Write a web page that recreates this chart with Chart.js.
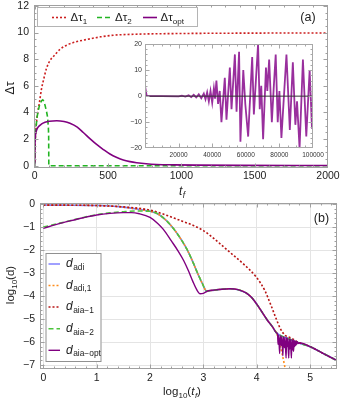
<!DOCTYPE html>
<html><head><meta charset="utf-8">
<script src="https://cdn.jsdelivr.net/npm/chart.js@4"></script>
<style>
html,body{margin:0;padding:0;background:#fff;width:341px;height:398px;overflow:hidden;}
canvas{position:absolute;}
#cTop{left:0;top:0;width:341px;height:198px;}
#cInset{left:110px;top:36px;width:215px;height:128px;}
#cBot{left:0;top:198px;width:341px;height:200px;}
</style></head><body>
<canvas id="cTop" width="341" height="198"></canvas>
<canvas id="cInset" width="215" height="128"></canvas>
<canvas id="cBot" width="341" height="200"></canvas>
<script>
// ---------------- panel (a) data ----------------
const topTicksX = [0, 500, 1000, 1500, 2000];
const topTicksY = [0, 2, 4, 6, 8, 10, 12];
const t1 = [0, 2, 5, 10, 20, 30, 38, 45, 59, 80, 104, 127, 173, 218, 280, 354, 450, 535, 700, 1000, 1500, 2000];
const tau1 = [0, 1.2, 2.2, 3.0, 4.0, 4.6, 5.2, 5.7, 6.4, 7.3, 7.9, 8.2, 8.75, 9.05, 9.3, 9.48, 9.68, 9.8, 9.88, 9.93, 9.96, 9.97];
const t2 = [0, 2, 5, 9, 15, 25, 35, 48, 55, 62, 70, 80, 87, 93, 95, 96, 2000];
const tau2 = [0, 1.5, 2.3, 2.9, 3.6, 4.2, 4.65, 4.9, 4.95, 4.85, 4.55, 4.1, 3.7, 2.9, 2.2, 0, 0];
const tOpt = [0, 1, 3, 7, 15, 25, 45, 70, 100, 150, 200, 240, 290, 331, 380, 422, 470, 513, 560, 604, 650, 695, 760, 831, 950, 1100, 1400, 2000];
const tauOpt = [0, 1.2, 2.0, 2.43, 2.75, 2.93, 3.12, 3.26, 3.34, 3.38, 3.32, 3.19, 2.9, 2.5, 2.0, 1.6, 1.2, 0.88, 0.62, 0.43, 0.31, 0.23, 0.15, 0.1, 0.07, 0.05, 0.03, 0.02];

// inset of panel (a)
const insetTicksX = [20000, 40000, 60000, 80000, 100000];
const insetTicksY = [-20, -10, 0, 10, 20];
const insetT = [0, 150, 1000, 10000, 20000, 22000, 24000, 26000, 27500, 29000, 30500, 32000, 33500, 35000, 36000, 37000, 38000, 39000, 40000, 41000, 41700, 42500, 43500, 44500, 45500, 47500, 48500, 50500, 51500, 53500, 54500, 56000, 56800, 58500, 59700, 61400, 63800, 64800, 67300, 68300, 69200, 70300, 72000, 72800, 73900, 75500, 76600, 77800, 79000, 80000, 81200, 84200, 86200, 88000, 89500, 90500, 92000, 94000, 96000, 98000, 99400, 100000];
const insetTau = [0, 3.4, 0.05, 0, -0.1, 0.2, -0.2, 0.3, -0.4, 0.5, -0.5, 0.7, -0.8, 1.0, -1.2, 1.5, -2.0, 2.0, -2.5, 3.0, -1.0, 6.0, -3.0, 2.0, -10, 7, -9, 11, -5, 16, -6, 17, -17.5, 10, -3, -15.5, 15, -7, 20, -5, 4, -16.5, 11, 2, 14, -10, 3, 16, -10, 2, -16, 16, -13, 13, -11, -2, -20, 14, -15.5, 10, -12.5, 1];

// ---------------- panel (b) data ----------------
const botTicksX = [0, 1, 2, 3, 4, 5];
const botTicksY = [0, -1, -2, -3, -4, -5, -6, -7];
const adiX = [0, 0.5, 1, 1.25, 1.5, 1.75, 2, 2.15, 2.3, 2.4, 2.5, 2.6, 2.7, 2.8, 2.9, 2.98, 3.06, 3.2, 3.35, 3.5, 3.65, 3.8, 3.9, 4, 4.1, 4.2, 4.3, 4.37, 4.45, 4.6, 4.8, 5, 5.25, 5.5];
const adiY = [-0.04, -0.045, -0.06, -0.08, -0.13, -0.21, -0.31, -0.43, -0.7, -0.95, -1.25, -1.6, -2.0, -2.5, -3.05, -3.45, -3.78, -3.74, -3.7, -3.68, -3.72, -3.86, -4.05, -4.35, -4.7, -5.05, -5.35, -5.6, -5.72, -5.86, -6.05, -6.2, -6.5, -6.8];
const adi1X = [0, 0.5, 1, 1.25, 1.5, 1.75, 2, 2.15, 2.3, 2.4, 2.5, 2.6, 2.7, 2.8, 2.9, 2.98, 3.06, 3.2, 3.35, 3.5, 3.65, 3.8, 3.9, 4, 4.1, 4.2, 4.3, 4.37, 4.42, 4.47, 4.52, 4.56];
const adi1Y = [-0.04, -0.045, -0.06, -0.08, -0.13, -0.21, -0.31, -0.43, -0.7, -0.95, -1.25, -1.6, -2.0, -2.5, -3.05, -3.45, -3.78, -3.74, -3.7, -3.68, -3.72, -3.86, -4.05, -4.35, -4.7, -5.05, -5.35, -5.6, -5.95, -6.45, -7.0, -7.5];
const aia1X = [0, 0.5, 1, 1.5, 2, 2.5, 3, 3.25, 3.5, 3.75, 4, 4.15, 4.25, 4.35, 4.44, 4.53, 4.62, 4.66, 4.75, 5, 5.25, 5.5];
const aia1Y = [-0.04, -0.045, -0.06, -0.12, -0.26, -0.65, -1.15, -1.6, -2.1, -2.6, -3.2, -3.75, -4.3, -4.9, -5.4, -5.7, -5.8, -5.84, -5.98, -6.2, -6.5, -6.8];
const aia2X = [0, 0.25, 0.5, 0.75, 1, 1.25, 1.5, 1.75, 2, 2.15, 2.3, 2.4, 2.5, 2.6, 2.7, 2.8, 2.9, 2.98, 3.06, 3.2, 3.35, 3.5, 3.65, 3.8, 3.9, 4, 4.1, 4.2, 4.3, 4.37, 4.45, 4.6, 4.8, 5, 5.25, 5.5];
const aia2Y = [-1.0, -0.86, -0.72, -0.58, -0.46, -0.38, -0.33, -0.3, -0.31, -0.43, -0.7, -0.95, -1.25, -1.6, -2.0, -2.5, -3.05, -3.45, -3.78, -3.74, -3.7, -3.68, -3.72, -3.86, -4.05, -4.35, -4.7, -5.05, -5.35, -5.6, -5.72, -5.86, -6.05, -6.2, -6.5, -6.8];
const optX = [0, 0.25, 0.5, 0.75, 1, 1.25, 1.5, 1.65, 1.8, 2, 2.15, 2.25, 2.4, 2.53, 2.63, 2.72, 2.8, 2.87, 2.94, 3, 3.08, 3.2, 3.35, 3.5, 3.65, 3.8, 3.9, 4, 4.1, 4.2, 4.3, 4.37,
  4.39, 4.40, 4.41, 4.43, 4.44, 4.46, 4.47, 4.49, 4.50, 4.52, 4.53, 4.55, 4.56, 4.57, 4.58, 4.60, 4.61, 4.62, 4.63, 4.65, 4.66, 4.67, 4.68, 4.69, 4.70, 4.71, 4.72, 4.73, 4.74, 4.75, 4.76, 4.78, 4.8, 5, 5.25, 5.5];
const optY = [-1.05, -0.88, -0.73, -0.59, -0.47, -0.4, -0.37, -0.37, -0.42, -0.58, -0.85, -1.1, -1.6, -2.05, -2.45, -2.9, -3.35, -3.7, -3.9, -3.88, -3.78, -3.74, -3.7, -3.68, -3.72, -3.86, -4.05, -4.35, -4.7, -5.05, -5.35, -5.6,
  -5.66, -6.1, -5.7, -6.5, -5.72, -6.15, -5.75, -6.6, -5.77, -6.25, -5.79, -6.7, -5.81, -6.2, -5.83, -6.7, -5.85, -6.3, -5.87, -6.7, -5.89, -6.35, -5.91, -6.4, -5.93, -6.2, -5.95, -6.15, -5.96, -6.1, -5.98, -6.06, -6.03, -6.2, -6.5, -6.8];

// ---------------- helpers ----------------
const FONT = '"Liberation Sans", Arial, sans-serif';
Chart.defaults.font.family = FONT;
Chart.defaults.color = '#222';
const pts = (xs, ys) => xs.map((x, i) => ({x: x, y: ys[i]}));
const fmt = v => (v < 0 ? '\u2212' + Math.abs(v) : String(v));
const setTicks = vals => s => { s.ticks = vals.map(v => ({value: v})); };
const zeroPad = s => { s.paddingTop = 0; s.paddingBottom = 0; s.paddingLeft = 0; s.paddingRight = 0; };
const fixW = w => s => { s.width = w; zeroPad(s); };
const fixH = h => s => { s.height = h; zeroPad(s); };
const range = (a, b, st) => { const r = []; for (let v = a; v <= b + 1e-9; v += st) r.push(+v.toFixed(6)); return r; };

const framePlugin = {
  id: 'frame',
  afterDatasetsDraw(chart, args, o) {
    const ctx = chart.ctx, a = chart.chartArea, sx = chart.scales.x, sy = chart.scales.y;
    ctx.save();
    ctx.strokeStyle = o.color || '#9a9a9a';
    ctx.lineWidth = 1;
    const L = Math.round(a.left) + 0.5, R = Math.round(a.right) - 0.5, T = Math.round(a.top) + 0.5, B = Math.round(a.bottom) - 0.5;
    ctx.strokeRect(L, T, R - L, B - T);
    ctx.beginPath();
    const xt = (v, len) => { const p = Math.round(sx.getPixelForValue(v)) + 0.5; if (p < L - 0.1 || p > R + 0.1) return; ctx.moveTo(p, B); ctx.lineTo(p, B - len); ctx.moveTo(p, T); ctx.lineTo(p, T + len); };
    const yt = (v, len) => { const p = Math.round(sy.getPixelForValue(v)) + 0.5; if (p < T - 0.1 || p > B + 0.1) return; ctx.moveTo(L, p); ctx.lineTo(L + len, p); ctx.moveTo(R, p); ctx.lineTo(R - len, p); };
    (o.xMinor || []).forEach(v => xt(v, 2));
    (o.xMajor || []).forEach(v => xt(v, 4));
    (o.yMinor || []).forEach(v => yt(v, 2));
    (o.yMajor || []).forEach(v => yt(v, 4));
    ctx.stroke();
    ctx.restore();
  }
};

function drawRich(ctx, x, y, segs, size, align, color) {
  ctx.save();
  ctx.fillStyle = color || '#222';
  ctx.textBaseline = 'alphabetic';
  const subS = size * 0.7;
  const ws = [];
  let w = 0;
  segs.forEach(s => {
    ctx.font = (s.it ? 'italic ' : '') + (s.sub ? subS : size) + 'px ' + FONT;
    const ww = ctx.measureText(s.t).width + (s.gap || 0);
    ws.push(ww); w += ww;
  });
  let cx = align === 'center' ? x - w / 2 : (align === 'right' ? x - w : x);
  const base = y + size * 0.35;
  segs.forEach((s, i) => {
    ctx.font = (s.it ? 'italic ' : '') + (s.sub ? subS : size) + 'px ' + FONT;
    ctx.fillText(s.t, cx, s.sub ? base + size * 0.22 : base);
    cx += ws[i];
  });
  ctx.restore();
}
function legLine(ctx, x1, x2, y, color, dash, w) {
  ctx.save();
  ctx.strokeStyle = color; ctx.lineWidth = w; ctx.setLineDash(dash);
  ctx.beginPath(); ctx.moveTo(x1, y); ctx.lineTo(x2, y); ctx.stroke();
  ctx.restore();
}
function legBox(ctx, x, y, w, h, border) {
  ctx.save();
  ctx.fillStyle = '#fff'; ctx.fillRect(x, y, w, h);
  ctx.strokeStyle = border; ctx.lineWidth = 1; ctx.strokeRect(x + 0.5, y + 0.5, w - 1, h - 1);
  ctx.restore();
}

const C_RED = '#cc1f1f', C_GREEN = '#22b422', C_PURPLE = '#800080';
const C_BLUE = '#7878ff', C_ORANGE = '#ff8c1a', C_DRED = '#b81414', C_LGREEN = '#4cc43c';

const lineDs = (label, data, color, dash, w, mono) => ({
  label: label, data: data, showLine: true, borderColor: color, backgroundColor: color,
  borderDash: dash, borderWidth: w, pointRadius: 0, pointHoverRadius: 0, fill: false,
  cubicInterpolationMode: mono ? 'monotone' : 'default', tension: 0
});

// ---------------- panel (a) main ----------------
new Chart(document.getElementById('cTop'), {
  type: 'scatter',
  data: { datasets: [
    lineDs('Δτopt', pts(tOpt, tauOpt), C_PURPLE, [], 1.6, true),
    lineDs('Δτ2', pts(t2, tau2), C_GREEN, [5, 3], 1.6, false),
    lineDs('Δτ1', pts(t1, tau1), C_RED, [2, 2], 1.6, true)
  ]},
  options: {
    responsive: false, animation: false, devicePixelRatio: 1,
    layout: { padding: { left: 0, top: 5, right: 13, bottom: 0 } },
    plugins: { legend: { display: false }, tooltip: { enabled: false },
      frame: { color: '#a0a0a0', xMajor: topTicksX, xMinor: range(0, 2000, 100), yMajor: topTicksY, yMinor: range(0, 12, 0.5) } },
    scales: {
      x: { type: 'linear', min: -5, max: 2000, afterBuildTicks: setTicks(topTicksX), afterFit: fixH(30.5),
        grid: { display: false, drawTicks: false }, border: { display: false },
        ticks: { padding: 2, font: { size: 10.5 }, color: '#222', maxRotation: 0, callback: v => fmt(v) } },
      y: { type: 'linear', min: -0.13, max: 12.07, afterBuildTicks: setTicks(topTicksY), afterFit: fixW(34),
        grid: { display: false, drawTicks: false }, border: { display: false },
        ticks: { padding: 5, font: { size: 10.5 }, color: '#222', callback: v => fmt(v) } }
    }
  },
  plugins: [framePlugin, { id: 'decoA', afterDraw(chart) {
    const ctx = chart.ctx;
    // axis titles
    ctx.save(); ctx.translate(10, 88); ctx.rotate(-Math.PI / 2);
    drawRich(ctx, 0, 0, [{t: 'Δτ'}], 12, 'center'); ctx.restore();
    drawRich(ctx, 182, 191, [{t: 't', it: true, gap: 0.5}, {t: 'f', it: true, sub: true}], 12, 'center');
    drawRich(ctx, 308, 17, [{t: '(a)'}], 12.5, 'center');
    // legend
    legBox(ctx, 37, 7, 161, 20, '#b4b4b4');
    legLine(ctx, 52, 67, 17.5, C_RED, [2, 2], 1.6);
    drawRich(ctx, 70.5, 17, [{t: 'Δτ'}, {t: '1', sub: true}], 11.5, 'left');
    legLine(ctx, 97, 112, 17.5, C_GREEN, [5, 3], 1.6);
    drawRich(ctx, 115, 17, [{t: 'Δτ'}, {t: '2', sub: true}], 11.5, 'left');
    legLine(ctx, 143, 157, 17.5, C_PURPLE, [], 1.6);
    drawRich(ctx, 160.5, 17, [{t: 'Δτ'}, {t: 'opt', sub: true}], 11.5, 'left');
  }}]
});

// ---------------- panel (a) inset ----------------
new Chart(document.getElementById('cInset'), {
  type: 'scatter',
  data: { datasets: [
    lineDs('zero', pts([0, 100000], [0, 0]), '#333', [], 1, false),
    lineDs('Δτopt', pts(insetT, insetTau), 'rgba(135,10,140,0.85)', [], 1.8, false)
  ]},
  options: {
    responsive: false, animation: false, devicePixelRatio: 1,
    layout: { padding: { left: 0, top: 8, right: 12, bottom: 0 } },
    plugins: { legend: { display: false }, tooltip: { enabled: false },
      frame: { color: '#a8a8a8', xMajor: insetTicksX, xMinor: range(0, 100000, 5000), yMajor: insetTicksY, yMinor: range(-20, 20, 2) } },
    scales: {
      x: { type: 'linear', min: 0, max: 100000, afterBuildTicks: setTicks(insetTicksX), afterFit: fixH(15.7),
        grid: { display: false, drawTicks: false }, border: { display: false },
        ticks: { padding: 3, font: { size: 6.5 }, color: '#333', maxRotation: 0, autoSkip: false, callback: v => String(v) } },
      y: { type: 'linear', min: -20, max: 20, afterBuildTicks: setTicks(insetTicksY), afterFit: fixW(35),
        grid: { display: false, drawTicks: false }, border: { display: false },
        ticks: { padding: 3, font: { size: 7 }, color: '#333', callback: v => fmt(v) } }
    }
  },
  plugins: [framePlugin]
});

// ---------------- panel (b) ----------------
new Chart(document.getElementById('cBot'), {
  type: 'scatter',
  data: { datasets: [
    lineDs('d_aia-opt', pts(optX, optY), C_PURPLE, [], 1.4, true),
    lineDs('d_aia-2', pts(aia2X, aia2Y), C_LGREEN, [5, 3], 1.6, true),
    lineDs('d_aia-1', pts(aia1X, aia1Y), C_DRED, [2, 2], 1.6, true),
    lineDs('d_adi,1', pts(adi1X, adi1Y), C_ORANGE, [2, 2], 1.6, true),
    lineDs('d_adi', pts(adiX, adiY), C_BLUE, [], 1.6, true)
  ]},
  options: {
    responsive: false, animation: false, devicePixelRatio: 1,
    layout: { padding: { left: 0, top: 5, right: 3.7, bottom: 0 } },
    plugins: { legend: { display: false }, tooltip: { enabled: false },
      frame: { color: '#a0a0a0', xMajor: botTicksX, xMinor: range(0, 5.4, 0.2), yMajor: botTicksY, yMinor: range(-7, 0, 0.2) } },
    scales: {
      x: { type: 'linear', min: -0.062, max: 5.51, afterBuildTicks: setTicks(botTicksX), afterFit: fixH(29.5),
        grid: { display: true, color: '#e4e4e4', drawTicks: false }, border: { display: false },
        ticks: { padding: 3.5, font: { size: 10.5 }, color: '#222', maxRotation: 0, callback: v => fmt(v) } },
      y: { type: 'linear', min: -7.15, max: 0.05, afterBuildTicks: setTicks(botTicksY), afterFit: fixW(40),
        grid: { display: true, color: '#e4e4e4', drawTicks: false }, border: { display: false },
        ticks: { padding: 5, font: { size: 10.5 }, color: '#222', callback: v => fmt(v) } }
    }
  },
  plugins: [framePlugin, { id: 'decoB', afterDraw(chart) {
    const ctx = chart.ctx;
    ctx.save(); ctx.translate(10, 87); ctx.rotate(-Math.PI / 2);
    drawRich(ctx, 0, 0, [{t: 'log'}, {t: '10', sub: true}, {t: '(d)'}], 11.5, 'center'); ctx.restore();
    drawRich(ctx, 182, 193, [{t: 'log'}, {t: '10', sub: true}, {t: '('}, {t: 't', it: true, gap: 0.5}, {t: 'f', it: true, sub: true}, {t: ')'}], 11.5, 'center');
    drawRich(ctx, 321.5, 19.5, [{t: '(b)'}], 12.5, 'center');
    // legend
    legBox(ctx, 45.5, 55, 56, 109, '#909090');
    const rows = [
      ['adi', C_BLUE, [], 66], ['adi,1', C_ORANGE, [2, 2], 87.5], ['aia\u22121', C_DRED, [2, 2], 109],
      ['aia\u22122', C_LGREEN, [5, 3], 130.7], ['aia\u2212opt', C_PURPLE, [], 152.3]
    ];
    rows.forEach(r => {
      legLine(ctx, 48.5, 60, r[3], r[1], r[2], 1.4);
      drawRich(ctx, 66, r[3] - 1, [{t: 'd', it: true, gap: 0.5}, {t: r[0], sub: true}], 12, 'left');
    });
  }}]
});
</script></body></html>
